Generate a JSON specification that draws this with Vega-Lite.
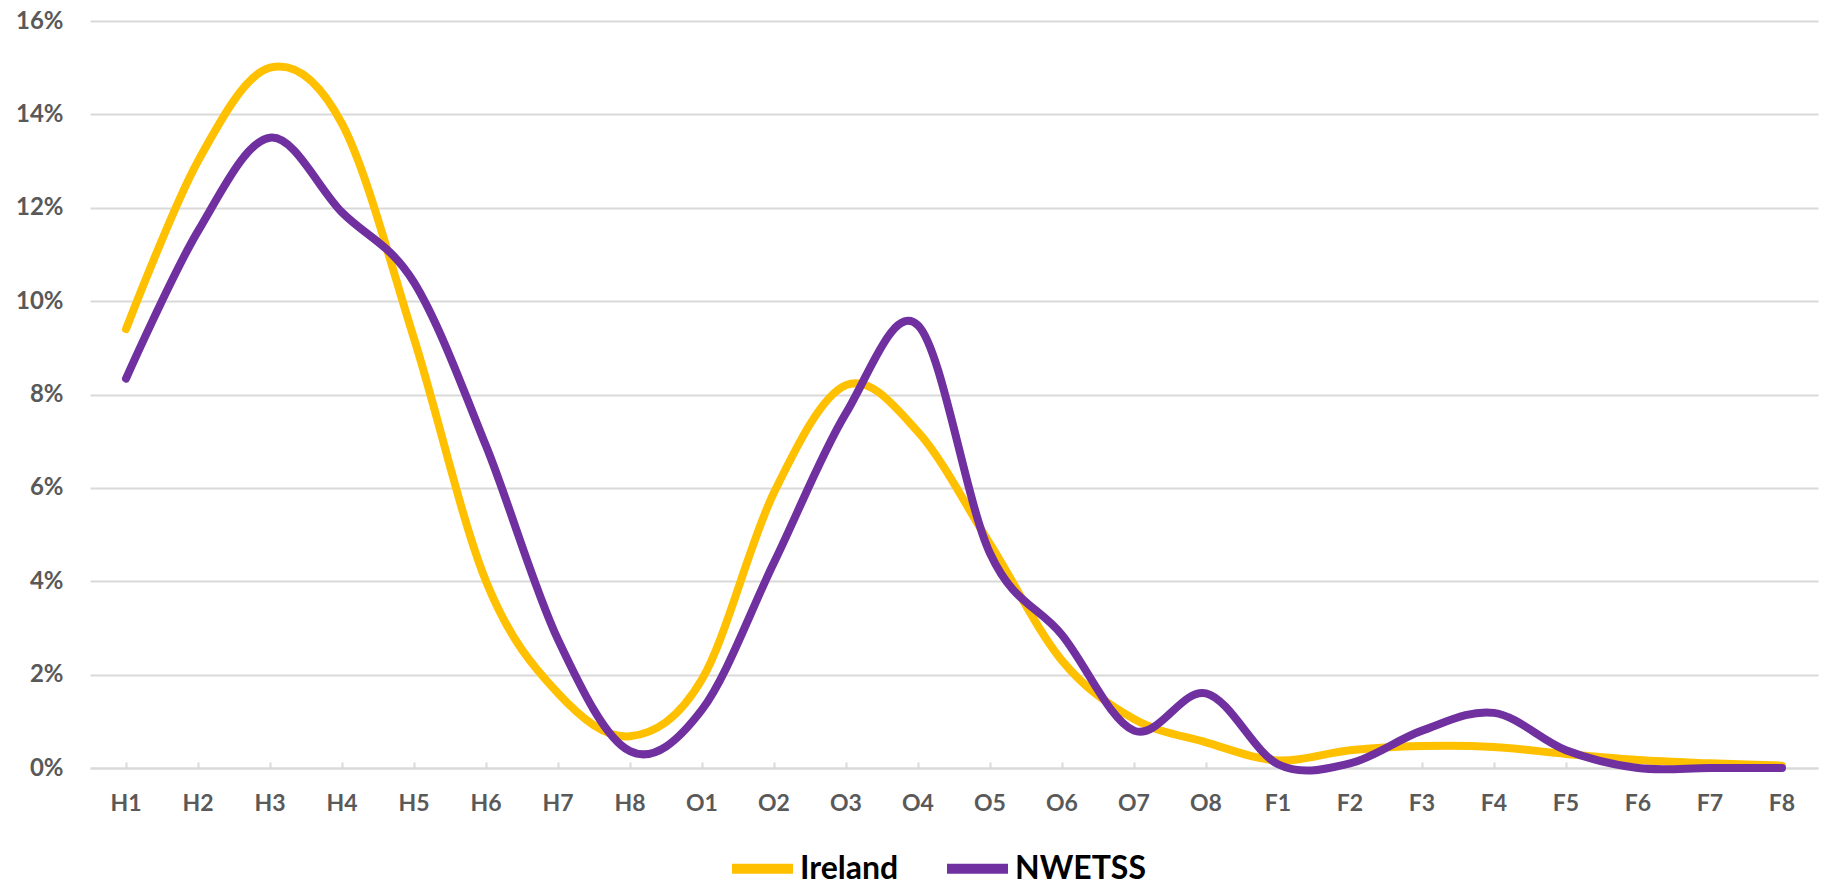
{
  "$schema": "https://vega.github.io/schema/vega-lite/v6.json",
  "width": 1728,
  "height": 747,
  "autosize": {"type": "none"},
  "padding": {"left": 90, "top": 21, "right": 7, "bottom": 117},
  "background": "white",
  "config": {
    "view": {"stroke": null},
    "font": "Lato"
  },
  "data": {
    "values": [
      {"cat": "H1", "series": "Ireland", "value": 0.094},
      {"cat": "H2", "series": "Ireland", "value": 0.130},
      {"cat": "H3", "series": "Ireland", "value": 0.150},
      {"cat": "H4", "series": "Ireland", "value": 0.138},
      {"cat": "H5", "series": "Ireland", "value": 0.092},
      {"cat": "H6", "series": "Ireland", "value": 0.040},
      {"cat": "H7", "series": "Ireland", "value": 0.016},
      {"cat": "H8", "series": "Ireland", "value": 0.0068},
      {"cat": "O1", "series": "Ireland", "value": 0.019},
      {"cat": "O2", "series": "Ireland", "value": 0.059},
      {"cat": "O3", "series": "Ireland", "value": 0.082},
      {"cat": "O4", "series": "Ireland", "value": 0.072},
      {"cat": "O5", "series": "Ireland", "value": 0.048},
      {"cat": "O6", "series": "Ireland", "value": 0.023},
      {"cat": "O7", "series": "Ireland", "value": 0.0105},
      {"cat": "O8", "series": "Ireland", "value": 0.0055},
      {"cat": "F1", "series": "Ireland", "value": 0.0016},
      {"cat": "F2", "series": "Ireland", "value": 0.0038},
      {"cat": "F3", "series": "Ireland", "value": 0.0047},
      {"cat": "F4", "series": "Ireland", "value": 0.0045},
      {"cat": "F5", "series": "Ireland", "value": 0.0030},
      {"cat": "F6", "series": "Ireland", "value": 0.0017},
      {"cat": "F7", "series": "Ireland", "value": 0.0010},
      {"cat": "F8", "series": "Ireland", "value": 0.0005},
      {"cat": "H1", "series": "NWETSS", "value": 0.0834},
      {"cat": "H2", "series": "NWETSS", "value": 0.115},
      {"cat": "H3", "series": "NWETSS", "value": 0.135},
      {"cat": "H4", "series": "NWETSS", "value": 0.119},
      {"cat": "H5", "series": "NWETSS", "value": 0.104},
      {"cat": "H6", "series": "NWETSS", "value": 0.069},
      {"cat": "H7", "series": "NWETSS", "value": 0.0275},
      {"cat": "H8", "series": "NWETSS", "value": 0.0036},
      {"cat": "O1", "series": "NWETSS", "value": 0.0125},
      {"cat": "O2", "series": "NWETSS", "value": 0.044},
      {"cat": "O3", "series": "NWETSS", "value": 0.076},
      {"cat": "O4", "series": "NWETSS", "value": 0.0948},
      {"cat": "O5", "series": "NWETSS", "value": 0.046},
      {"cat": "O6", "series": "NWETSS", "value": 0.0285},
      {"cat": "O7", "series": "NWETSS", "value": 0.008},
      {"cat": "O8", "series": "NWETSS", "value": 0.016},
      {"cat": "F1", "series": "NWETSS", "value": 0.0008},
      {"cat": "F2", "series": "NWETSS", "value": 0.001},
      {"cat": "F3", "series": "NWETSS", "value": 0.008},
      {"cat": "F4", "series": "NWETSS", "value": 0.0118},
      {"cat": "F5", "series": "NWETSS", "value": 0.0038},
      {"cat": "F6", "series": "NWETSS", "value": 0.0},
      {"cat": "F7", "series": "NWETSS", "value": 0.0},
      {"cat": "F8", "series": "NWETSS", "value": 0.0}
    ]
  },
  "mark": {
    "type": "line",
    "interpolate": "cardinal",
    "tension": 0,
    "strokeWidth": 8,
    "strokeCap": "round",
    "strokeJoin": "round"
  },
  "encoding": {
    "x": {
      "field": "cat",
      "type": "ordinal",
      "sort": null,
      "scale": {"type": "band", "paddingInner": 0, "paddingOuter": 0},
      "axis": {
        "title": null,
        "labelAngle": 0,
        "labelFont": "Lato",
        "labelFontSize": 23,
        "labelFontWeight": "bold",
        "labelColor": "#595959",
        "labelPadding": 30,
        "domainColor": "#d9d9d9",
        "domainWidth": 2,
        "tickColor": "#d9d9d9",
        "tickWidth": 2,
        "tickSize": -6,
        "grid": false
      }
    },
    "y": {
      "field": "value",
      "type": "quantitative",
      "scale": {"domain": [0, 0.16], "nice": false},
      "axis": {
        "title": null,
        "format": ".0%",
        "values": [0, 0.02, 0.04, 0.06, 0.08, 0.1, 0.12, 0.14, 0.16],
        "labelFont": "Lato",
        "labelFontSize": 24,
        "labelFontWeight": "bold",
        "labelColor": "#595959",
        "labelPadding": 27,
        "ticks": false,
        "domain": false,
        "grid": true,
        "gridColor": "#d9d9d9",
        "gridWidth": 2
      }
    },
    "color": {
      "field": "series",
      "type": "nominal",
      "scale": {"domain": ["Ireland", "NWETSS"], "range": ["#FFC000", "#7030A0"]},
      "legend": {
        "title": null,
        "orient": "none",
        "direction": "horizontal",
        "legendX": 637,
        "legendY": 812,
        "symbolType": "stroke",
        "symbolSize": 3721,
        "symbolStrokeWidth": 10,
        "labelFont": "Lato",
        "labelFontSize": 32,
        "labelFontWeight": "bold",
        "labelColor": "#000000",
        "labelOffset": 2,
        "columnPadding": 28,
        "labelLimit": 400
      }
    },
    "order": {"field": "series"}
  }
}
